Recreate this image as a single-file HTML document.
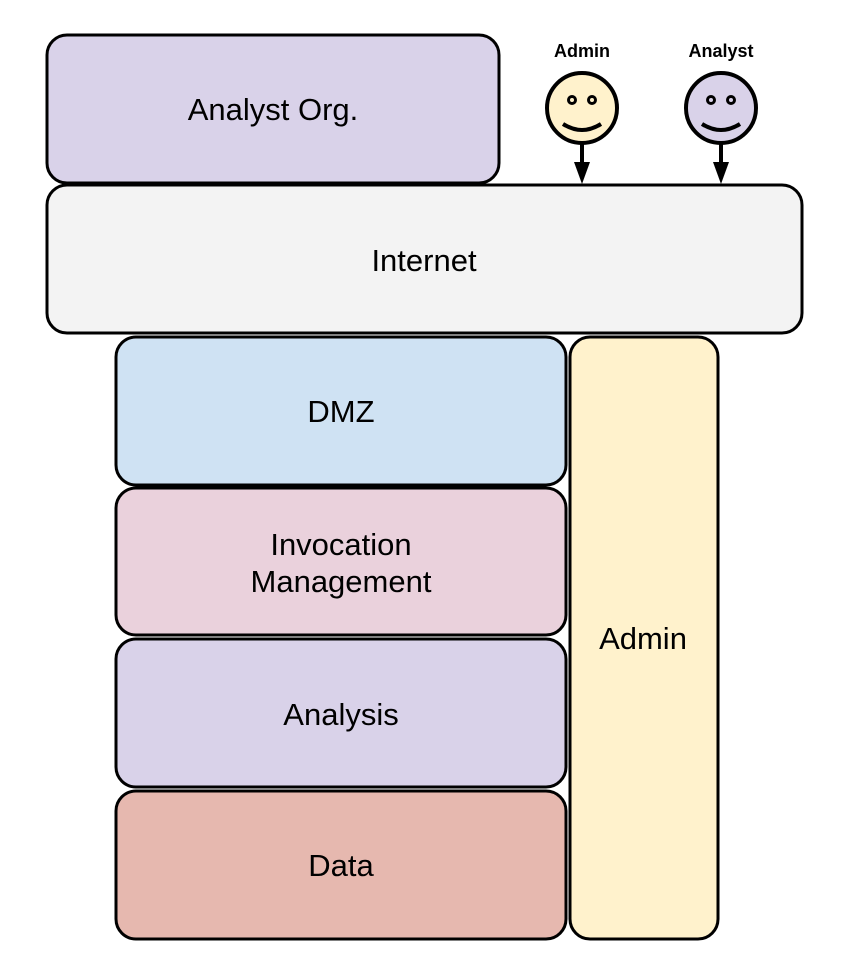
<!DOCTYPE html>
<html><head><style>body{margin:0;background:#fff}</style></head><body>
<svg width="848" height="970" xmlns="http://www.w3.org/2000/svg" font-family="Liberation Sans, Arial, sans-serif">
<g stroke="#000" stroke-width="3">
<rect x="47" y="35" width="452" height="148" rx="20" fill="#d9d2e9"/>
<rect x="47" y="185" width="755" height="148" rx="20" fill="#f3f3f3"/>
<rect x="116" y="337" width="450" height="148" rx="20" fill="#cfe2f3"/>
<rect x="116" y="488" width="450" height="147" rx="20" fill="#ead1dc"/>
<rect x="116" y="639" width="450" height="148" rx="20" fill="#d9d2e9"/>
<rect x="116" y="791" width="450" height="148" rx="20" fill="#e6b8af"/>
<rect x="570" y="337" width="148" height="602" rx="20" fill="#fff2cc"/>
</g>
<g stroke="#000" stroke-width="4">
<circle cx="582" cy="108" r="35" fill="#fff2cc"/>
<circle cx="721" cy="108" r="35" fill="#d9d2e9"/>
<line x1="582" y1="143" x2="582" y2="165"/>
<line x1="721" y1="143" x2="721" y2="165"/>
<path d="M563 124 Q582 136 601 124" fill="none"/>
<path d="M702 124 Q721 136 740 124" fill="none"/>
</g>
<g fill="#000">
<polygon points="574,162 590,162 582,184"/>
<polygon points="713,162 729,162 721,184"/>
</g>
<g fill="none" stroke="#000" stroke-width="3">
<circle cx="572" cy="100" r="3.5"/><circle cx="592" cy="100" r="3.5"/>
<circle cx="711" cy="100" r="3.5"/><circle cx="731" cy="100" r="3.5"/>
</g>
<g font-size="31" text-anchor="middle" fill="#000">
<text x="273" y="120">Analyst Org.</text>
<text x="424" y="271">Internet</text>
<text x="341" y="422">DMZ</text>
<text x="341" y="555">Invocation</text>
<text x="341" y="592">Management</text>
<text x="341" y="725">Analysis</text>
<text x="341" y="876">Data</text>
<text x="643" y="649">Admin</text>
</g>
<g font-size="18" font-weight="bold" text-anchor="middle">
<text x="582" y="57">Admin</text>
<text x="721" y="57">Analyst</text>
</g>
</svg>
</body></html>
